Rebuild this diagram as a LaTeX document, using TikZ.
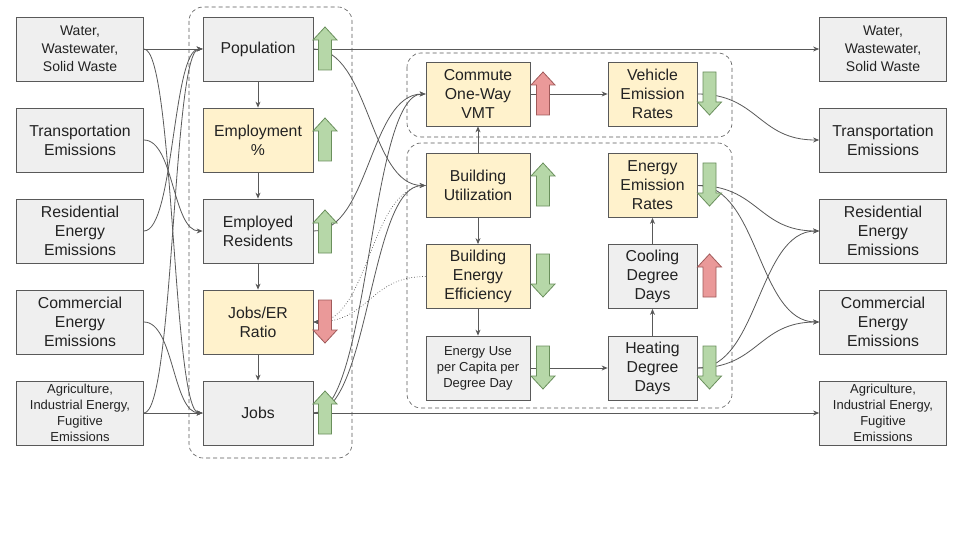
\documentclass[tikz,border=0pt]{standalone}
\usepackage{fontspec}
\setmainfont{Liberation Sans}
\usetikzlibrary{arrows.meta}

\definecolor{boxgray}{HTML}{EFEFEF}
\definecolor{boxyellow}{HTML}{FFF2CC}
\definecolor{linegray}{HTML}{595959}
\definecolor{txtgray}{HTML}{222222}
\definecolor{upgreen}{HTML}{B6D7A8}
\definecolor{upgreenline}{HTML}{6A8F5C}
\definecolor{downred}{HTML}{EA9999}
\definecolor{downredline}{HTML}{A05A5A}

\tikzset{
	box/.style={draw=linegray, line width=0.8pt, fill=boxgray, text=txtgray, minimum height=64pt, align=center, inner sep=1pt, font=\fontsize{15.8}{19}\selectfont},
	ybox/.style={box, fill=boxyellow},
	sidebox/.style={minimum width=127pt},
	popbox/.style={minimum width=110pt},
	midbox/.style={minimum width=104pt},
	ratebox/.style={minimum width=89pt},
	smalltext/.style={font=\fontsize{13}{16}\selectfont},
	wastetext/.style={font=\fontsize{14}{18}\selectfont},
	link/.style={draw=linegray, line width=0.8pt, ->},
	hint/.style={draw=linegray, line width=0.7pt, dotted, ->},
	group/.style={draw=linegray, line width=0.6pt, dash pattern=on 4pt off 3pt, rounded corners=14pt},
	good/.style={fill=upgreen, draw=upgreenline, line width=0.8pt},
	bad/.style={fill=downred, draw=downredline, line width=0.8pt}
}

% block arrows: x centre, top y, style
\newcommand{\trendup}[3]{%
	\draw[#3] (#1-12,#2+13) -- (#1,#2) -- (#1+12,#2+13) -- (#1+6.5,#2+13) -- (#1+6.5,#2+43) -- (#1-6.5,#2+43) -- (#1-6.5,#2+13) -- cycle;}
\newcommand{\trenddown}[3]{%
	\draw[#3] (#1-6.5,#2) -- (#1+6.5,#2) -- (#1+6.5,#2+30) -- (#1+12,#2+30) -- (#1,#2+43) -- (#1-12,#2+30) -- (#1-6.5,#2+30) -- cycle;}

\begin{document}
\begin{tikzpicture}[x=1pt,y=-1pt,>={Stealth[length=6pt,width=5pt]}]
	\useasboundingbox[fill=white] (0,0) rectangle (960,540);

	\draw[group] (189,7) rectangle (352,458);
	\draw[group] (407,53) rectangle (732,137);
	\draw[group] (407,143) rectangle (732,408);

	% left column
	\node[box, sidebox, wastetext] (wL) at (80,49) {Water,\\Wastewater,\\Solid Waste};
	\node[box, sidebox] (tL) at (80,140) {Transportation\\Emissions};
	\node[box, sidebox] (rL) at (80,231) {Residential\\Energy\\Emissions};
	\node[box, sidebox] (cL) at (80,322) {Commercial\\Energy\\Emissions};
	\node[box, sidebox, smalltext] (aL) at (80,413) {Agriculture,\\Industrial Energy,\\Fugitive\\Emissions};

	% population group
	\node[box, popbox] (pop) at (258,49) {Population};
	\node[ybox, popbox] (emp) at (258,140) {Employment\\\%};
	\node[box, popbox] (res) at (258,231) {Employed\\Residents};
	\node[ybox, popbox] (jer) at (258,322) {Jobs/ER\\Ratio};
	\node[box, popbox] (jobs) at (258,413) {Jobs};

	% transport and building groups
	\node[ybox, midbox] (vmt) at (478,94) {Commute\\One-Way\\VMT};
	\node[ybox, midbox] (util) at (478,185.5) {Building\\Utilization};
	\node[ybox, midbox] (eff) at (478,276.5) {Building\\Energy\\Efficiency};
	\node[box, midbox, smalltext] (use) at (478,368) {Energy Use\\per Capita per\\Degree Day};
	\node[ybox, ratebox] (ver) at (652.5,94) {Vehicle\\Emission\\Rates};
	\node[ybox, ratebox] (eer) at (652.5,185.5) {Energy\\Emission\\Rates};
	\node[box, ratebox] (cdd) at (652.5,276.5) {Cooling\\Degree\\Days};
	\node[box, ratebox] (hdd) at (652.5,368) {Heating\\Degree\\Days};

	% right column
	\node[box, sidebox, wastetext] (wR) at (883,49) {Water,\\Wastewater,\\Solid Waste};
	\node[box, sidebox] (tR) at (883,140) {Transportation\\Emissions};
	\node[box, sidebox] (rR) at (883,231) {Residential\\Energy\\Emissions};
	\node[box, sidebox] (cR) at (883,322) {Commercial\\Energy\\Emissions};
	\node[box, sidebox, smalltext] (aR) at (883,413) {Agriculture,\\Industrial Energy,\\Fugitive\\Emissions};

	\draw[link] (wL) -- (pop);
	\draw[link] (wL.east) to[out=0,in=180,distance=30pt] (jobs.west);
	\draw[link] (tL.east) to[out=0,in=180,distance=30pt] (res.west);
	\draw[link] (rL.east) to[out=0,in=180,distance=30pt] (pop.west);
	\draw[link] (cL.east) to[out=0,in=180,distance=30pt] (jobs.west);
	\draw[link] (aL.east) to[out=0,in=180,distance=30pt] (pop.west);
	\draw[link] (aL) -- (jobs);

	\draw[link] (pop) -- (emp);
	\draw[link] (emp) -- (res);
	\draw[link] (res) -- (jer);
	\draw[link] (jer) -- (jobs);

	\draw[link] (pop) -- (wR);
	\draw[link] (jobs) -- (aR);
	\draw[link] (pop.east) to[out=0,in=180,distance=56pt] (util.west);
	\draw[link] (res.east) to[out=0,in=180,distance=56pt] (vmt.west);
	\draw[link] (jobs.east) to[out=0,in=180,distance=56pt] (vmt.west);
	\draw[link] (jobs.east) to[out=0,in=180,distance=56pt] (util.west);
	\draw[hint] (util.west) to[out=180,in=0,distance=56pt] (jer.east);
	\draw[hint] (eff.west) to[out=180,in=0,distance=56pt] (jer.east);

	\draw[link] (vmt) -- (ver);
	\draw[link] (util) -- (vmt);
	\draw[link] (util) -- (eff);
	\draw[link] (eff) -- (use);
	\draw[link] (use) -- (hdd);
	\draw[link] (hdd) -- (cdd);
	\draw[link] (cdd) -- (eer);

	\draw[link] (ver.east) to[out=0,in=180,distance=61pt] (tR.west);
	\draw[link] (eer.east) to[out=0,in=180,distance=61pt] (rR.west);
	\draw[link] (eer.east) to[out=0,in=180,distance=61pt] (cR.west);
	\draw[link] (hdd.east) to[out=0,in=180,distance=61pt] (rR.west);
	\draw[link] (hdd.east) to[out=0,in=180,distance=61pt] (cR.west);

	\trendup{325}{27}{good}
	\trendup{325}{118}{good}
	\trendup{325}{210}{good}
	\trenddown{325}{300}{bad}
	\trendup{325}{391}{good}
	\trendup{543}{72}{bad}
	\trendup{543}{163}{good}
	\trenddown{543}{254}{good}
	\trenddown{543}{346}{good}
	\trenddown{709.5}{72}{good}
	\trenddown{709.5}{163}{good}
	\trendup{709.5}{254}{bad}
	\trenddown{709.5}{346}{good}
\end{tikzpicture}
\end{document}
